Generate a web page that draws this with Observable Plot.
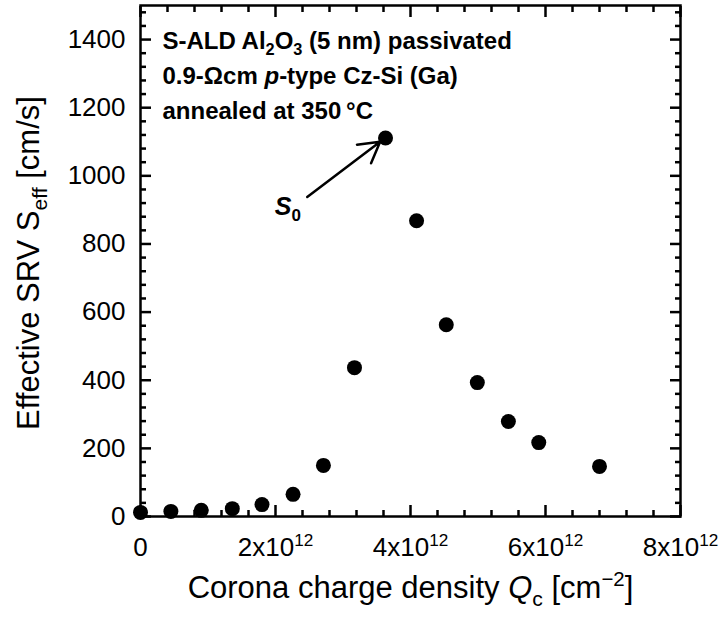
<!DOCTYPE html>
<html>
<head>
<meta charset="utf-8">
<script src="https://cdn.jsdelivr.net/npm/d3@7"></script>
<script src="https://cdn.jsdelivr.net/npm/@observablehq/plot@0.6"></script>
<style>
  html, body { margin: 0; padding: 0; background: #fff; }
  #chart { width: 723px; height: 617px; }
</style>
</head>
<body>
<div id="chart"></div>
<script>
// ---- data ----
const chargeDensity = [0, 0.45e12, 0.90e12, 1.36e12, 1.80e12, 2.26e12, 2.71e12, 3.17e12, 3.63e12, 4.09e12, 4.53e12, 4.99e12, 5.45e12, 5.90e12, 6.80e12];
const srv = [12, 15, 18, 23, 35, 65, 150, 437, 1111, 868, 563, 393, 279, 217, 147];

const xMajorTicks = [0, 2e12, 4e12, 6e12, 8e12];
const xTickLabels = ["0", "2x10^{12}", "4x10^{12}", "6x10^{12}", "8x10^{12}"];
const yMajorTicks = [0, 200, 400, 600, 800, 1000, 1200, 1400];
const xMinorTicks = d3.range(0, 8e12 + 1, 0.4e12).filter(v => Math.abs(v / 2e12 - Math.round(v / 2e12)) > 1e-6);
const yMinorTicks = d3.range(0, 1501, 40).filter(v => v % 200 !== 0);

const annotationLines = [
  "S-ALD Al_{2}O_{3} (5 nm) passivated",
  "0.9-\u03A9cm *p*-type Cz-Si (Ga)",
  "annealed at 350\u2009\u00B0C"
];
const xLabel = "Corona charge density *Q*_{c} [cm^{\u22122}]";
const yLabel = "Effective SRV S_{eff} [cm/s]";
const s0Label = [{text: "*S*_{0}", x: 1.99e12, y: 886}];
const s0Arrow = [{x1: 2.47e12, y1: 938, x2: 3.55e12, y2: 1100}];

const points = chargeDensity.map((q, i) => ({q, s: srv[i]}));

// ---- chart ----
const font = "'Liberation Sans', Arial, Helvetica, sans-serif";
const tickStyle = {stroke: "black", strokeWidth: 2.5, tickFormat: () => "", label: null};

const chart = Plot.plot({
  width: 723,
  height: 617,
  marginLeft: 140,
  marginRight: 43,
  marginTop: 5,
  marginBottom: 101,
  style: {fontFamily: font, color: "black", background: "white"},
  x: {domain: [0, 8e12]},
  y: {domain: [0, 1500]},
  marks: [
    // inward ticks on all four sides
    Plot.axisX({anchor: "bottom", ticks: xMajorTicks, tickSize: -11, ...tickStyle}),
    Plot.axisX({anchor: "bottom", ticks: xMinorTicks, tickSize: -6, ...tickStyle}),
    Plot.axisX({anchor: "top", ticks: xMajorTicks, tickSize: -11, ...tickStyle}),
    Plot.axisX({anchor: "top", ticks: xMinorTicks, tickSize: -6, ...tickStyle}),
    Plot.axisY({anchor: "left", ticks: yMajorTicks, tickSize: -11, ...tickStyle}),
    Plot.axisY({anchor: "left", ticks: yMinorTicks, tickSize: -6, ...tickStyle}),
    Plot.axisY({anchor: "right", ticks: yMajorTicks, tickSize: -11, ...tickStyle}),
    Plot.axisY({anchor: "right", ticks: yMinorTicks, tickSize: -6, ...tickStyle}),
    // tick labels
    Plot.axisX({anchor: "bottom", ticks: xMajorTicks, tickSize: 0, tickPadding: 21, fontSize: 26, label: null,
      tickFormat: d => xTickLabels[xMajorTicks.indexOf(d)]}),
    Plot.axisY({anchor: "left", ticks: yMajorTicks, tickSize: 0, tickPadding: 15, fontSize: 26, label: null,
      tickFormat: d => String(d)}),
    // axis titles
    Plot.text([xLabel], {frameAnchor: "bottom", dy: 81, lineAnchor: "bottom", textAnchor: "middle", fontSize: 31, fill: "black"}),
    Plot.text([yLabel], {frameAnchor: "left", dx: -102, dy: 2, rotate: -90, lineAnchor: "bottom", textAnchor: "middle", fontSize: 31, fill: "black"}),
    // annotation block
    Plot.text([annotationLines[0]], {frameAnchor: "top-left", dx: 22, dy: 43, lineAnchor: "bottom", textAnchor: "start", fontSize: 24, fontWeight: "bold", fill: "black"}),
    Plot.text([annotationLines[1]], {frameAnchor: "top-left", dx: 22, dy: 78, lineAnchor: "bottom", textAnchor: "start", fontSize: 24, fontWeight: "bold", fill: "black"}),
    Plot.text([annotationLines[2]], {frameAnchor: "top-left", dx: 22, dy: 113, lineAnchor: "bottom", textAnchor: "start", fontSize: 24, fontWeight: "bold", fill: "black"}),
    // S0 label + arrow
    Plot.text(s0Label, {x: "x", y: "y", text: "text", lineAnchor: "bottom", textAnchor: "start", fontSize: 25, fontWeight: "bold", fill: "black"}),
    Plot.arrow(s0Arrow, {x1: "x1", y1: "y1", x2: "x2", y2: "y2", stroke: "black", strokeWidth: 2.5, headLength: 14, headAngle: 60}),
    // data
    Plot.dot(points, {x: "q", y: "s", r: 7.5, fill: "black", stroke: "none"}),
    Plot.frame({stroke: "black", strokeWidth: 2.5})
  ]
});

document.getElementById("chart").appendChild(chart);

// rich text: _{sub}, ^{sup}, *italic*
function richify(root) {
  root.querySelectorAll("text").forEach(t => {
    const s = t.textContent;
    if (!/(_\{|\^\{|\*)/.test(s)) return;
    const fs = parseFloat(getComputedStyle(t).fontSize) || 16;
    const parts = s.split(/(_\{[^}]*\}|\^\{[^}]*\}|\*[^*]+\*)/g).filter(p => p !== "");
    t.textContent = "";
    let shift = 0;
    for (const p of parts) {
      const ts = document.createElementNS("http://www.w3.org/2000/svg", "tspan");
      let target = 0, text = p, size = null, italic = false;
      if (p.startsWith("_{")) { target = 0.26 * fs; text = p.slice(2, -1); size = 0.68 * fs; }
      else if (p.startsWith("^{")) { target = -0.38 * fs; text = p.slice(2, -1); size = 0.66 * fs; }
      else if (p.length > 2 && p.startsWith("*") && p.endsWith("*")) { text = p.slice(1, -1); italic = true; }
      if (target - shift !== 0) ts.setAttribute("dy", target - shift);
      shift = target;
      if (size) ts.setAttribute("font-size", size);
      if (italic) ts.setAttribute("font-style", "italic");
      ts.textContent = text;
      t.appendChild(ts);
    }
  });
}
richify(chart);
</script>
</body>
</html>
